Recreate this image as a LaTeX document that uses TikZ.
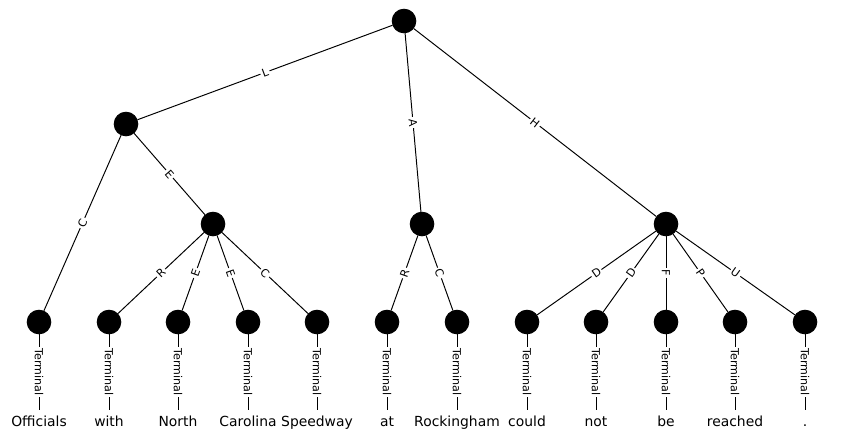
\documentclass[tikz,border=0pt]{standalone}
\usepackage{fontspec}
\setmainfont{DejaVu Sans}

\begin{document}
\begin{tikzpicture}[x=0.72pt, y=-0.72pt, line width=0.7pt,
  main node/.style={circle, draw, fill=black, inner sep=0pt, minimum width=17pt},
  word node/.style={inner sep=4pt, text height=7.5pt, text depth=2.3pt, font=\fontsize{10}{12}\selectfont},
  edge label/.style={fill=white, inner sep=1.2pt, font=\fontsize{8}{9}\selectfont},
  terminal label/.style={edge label, rotate=-90}]

\useasboundingbox (0,0) rectangle (844,444);

\node[main node] (0) at (404,21) {};
\node[main node] (1) at (126,124) {};
\node[main node] (2) at (213,224) {};
\node[main node] (3) at (422,224) {};
\node[main node] (4) at (666,224) {};

\foreach \n/\x/\w in {5/39/Officials, 6/109/with, 7/178/North, 8/248/Carolina,
    9/317/Speedway, 10/387/at, 11/457/Rockingham, 12/527/could, 13/596/not,
    14/666/be, 15/735/reached, 16/805/.}
{
  \node[main node] (\n) at (\x,322) {};
  \node[word node] (w\n) at (\x,422.5) {\w};
  \draw (\n) -- (w\n) node[midway, terminal label] {Terminal};
}

\draw (0) -- (1) node[midway, edge label, sloped] {L};
\draw (0) -- (3) node[midway, edge label, sloped] {A};
\draw (0) -- (4) node[midway, edge label, sloped] {H};

\draw (1) -- (5) node[midway, edge label, sloped] {C};
\draw (1) -- (2) node[midway, edge label, sloped] {E};

\draw (2) -- (6) node[midway, edge label, sloped] {R};
\draw (2) -- (7) node[midway, edge label, sloped] {E};
\draw (2) -- (8) node[midway, edge label, sloped] {E};
\draw (2) -- (9) node[midway, edge label, sloped] {C};

\draw (3) -- (10) node[midway, edge label, sloped] {R};
\draw (3) -- (11) node[midway, edge label, sloped] {C};

\draw (4) -- (12) node[midway, edge label, sloped] {D};
\draw (4) -- (13) node[midway, edge label, sloped] {D};
\draw (4) -- (14) node[midway, edge label, rotate=-90] {F};
\draw (4) -- (15) node[midway, edge label, sloped] {P};
\draw (4) -- (16) node[midway, edge label, sloped] {U};

\end{tikzpicture}
\end{document}
